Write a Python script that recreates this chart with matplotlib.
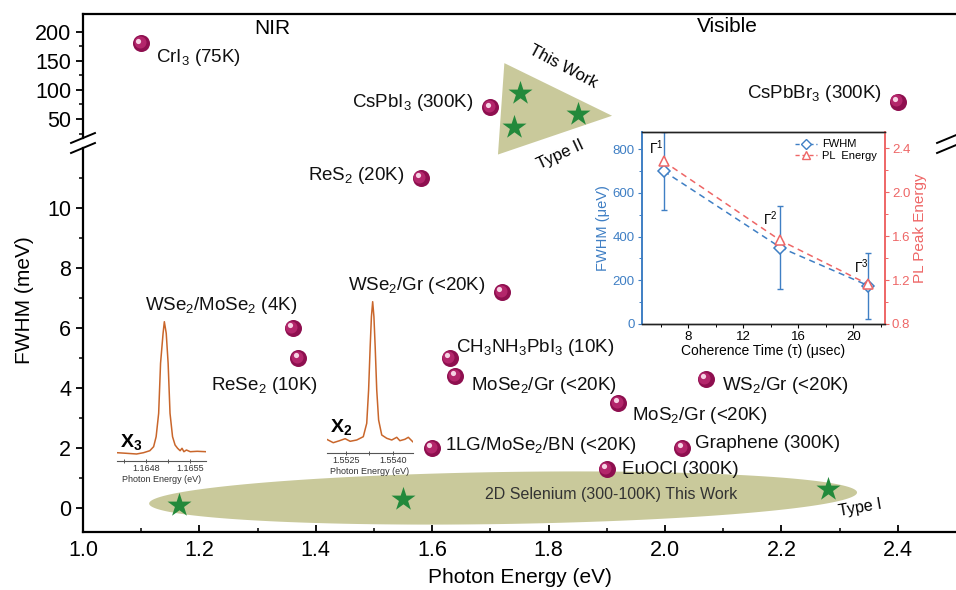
import numpy as np
import matplotlib.pyplot as plt
import matplotlib.transforms as mtransforms
from matplotlib.patches import Polygon
from matplotlib.lines import Line2D
from matplotlib.ticker import FormatStrFormatter

plt.rcParams['font.family'] = ['Liberation Sans', 'DejaVu Sans']
plt.rcParams['mathtext.fontset'] = 'custom'
plt.rcParams['mathtext.rm'] = 'Liberation Sans'
plt.rcParams['mathtext.bf'] = 'Liberation Sans:bold'
plt.rcParams['mathtext.it'] = 'Liberation Sans:italic'
plt.rcParams['mathtext.default'] = 'regular'

# --- dados: painel superior (FWHM grande) ---
top_names = ['CrI$_3$ (75K)', 'CsPbI$_3$ (300K)', 'CsPbBr$_3$ (300K)']
top_energy = [1.10, 1.70, 2.40]
top_fwhm = [180, 70, 80]

# --- dados: painel inferior ---
low_names = ['ReS$_2$ (20K)', 'WSe$_2$/Gr (<20K)', 'CH$_3$NH$_3$PbI$_3$ (10K)',
             'MoSe$_2$/Gr (<20K)', 'WSe$_2$/MoSe$_2$ (4K)', 'ReSe$_2$ (10K)',
             '1LG/MoSe$_2$/BN (<20K)', 'MoS$_2$/Gr (<20K)', 'WS$_2$/Gr (<20K)',
             'Graphene (300K)', 'EuOCl (300K)']
low_energy = [1.58, 1.72, 1.63, 1.64, 1.36, 1.37, 1.60, 1.92, 2.07, 2.03, 1.90]
low_fwhm = [11.0, 7.2, 5.0, 4.4, 6.0, 5.0, 2.0, 3.5, 4.3, 2.0, 1.3]

# --- este trabalho (selenio 2D) ---
type1_energy = [1.165, 1.55, 2.28]
type1_fwhm = [0.1, 0.3, 0.65]
type2_energy = [1.75, 1.74, 1.85]
type2_fwhm = [95, 37, 58]

# --- espectros dos insets ---
x3_energy = [1.16434, 1.16449, 1.16465, 1.16476, 1.16486, 1.16492, 1.16496, 1.16500,
             1.16503, 1.16507, 1.16509, 1.16512, 1.16515, 1.16518, 1.16522, 1.16526,
             1.16530, 1.16534, 1.16537, 1.16540, 1.16544, 1.16550, 1.16561, 1.16575]
x3_intensity = [7.3, 6.7, 6.0, 7.3, 9.3, 13.3, 23.3, 46.7, 96.7, 126.7, 138.3, 126.7,
                96.7, 46.7, 23.3, 15.0, 11.7, 9.3, 11.7, 8.3, 10.0, 8.3, 8.7, 8.3]
x2_energy = [1.55189, 1.55210, 1.55230, 1.55248, 1.55264, 1.55285, 1.55306, 1.55317,
             1.55323, 1.55328, 1.55332, 1.55336, 1.55340, 1.55344, 1.55349, 1.55355,
             1.55365, 1.55381, 1.55397, 1.55413, 1.55423, 1.55439, 1.55450, 1.55464]
x2_intensity = [15.7, 12.3, 14.3, 16.3, 13.7, 15.0, 18.3, 31.7, 65.0, 108.3, 138.3, 153.3,
                138.3, 108.3, 65.0, 35.0, 20.0, 16.7, 15.0, 17.7, 14.3, 15.7, 17.7, 13.3]

# --- inset tempo de coerencia ---
coh_time = [6.2, 14.7, 21.1]
coh_fwhm = [700, 350, 175]
coh_fwhm_err = [180, 190, 150]
coh_pl = [2.28, 1.56, 1.16]
gamma_labels = ['Γ$^1$', 'Γ$^2$', 'Γ$^3$']

# deslocamentos dos rotulos (pixels) e alinhamento
top_offsets = [(15, -14, 'left'), (-17, 5, 'right'), (-16, 8, 'right')]
low_offsets = [(-16, 2, 'right'), (-17, 7, 'right'), (6, 11, 'left'), (16, -9, 'left'),
               (-71, 22, 'center'), (-34, -28, 'center'), (13, 2, 'left'),
               (14, -12, 'left'), (16, -7, 'left'), (13, 5, 'left'), (15, 0, 'left')]

W, H = 956, 590
fig = plt.figure(figsize=(W / 100, H / 100), dpi=100)


def box(l, t, r, b):
    return [l / W, 1 - b / H, (r - l) / W, (b - t) / H]


def ftext(x, y, s, **kw):
    fig.text(x / W, 1 - y / H, s, **kw)


ball_dark = '#8e0f4f'
ball_mid = '#b3266b'
ball_hi = '#f6d3e4'
star_green = '#23893b'
khaki = '#c9c99b'


def balls(ax, xs, ys):
    ax.scatter(xs, ys, s=150, color=ball_dark, linewidths=0, zorder=5)
    t1 = mtransforms.offset_copy(ax.transData, fig=fig, x=-1.5, y=1.5, units='dots')
    ax.scatter(xs, ys, s=75, color=ball_mid, linewidths=0, transform=t1, zorder=6)
    t2 = mtransforms.offset_copy(ax.transData, fig=fig, x=-2.8, y=2.8, units='dots')
    ax.scatter(xs, ys, s=14, color=ball_hi, linewidths=0, transform=t2, zorder=7)


def labels(ax, names, xs, ys, offsets):
    for nome, x, y, (dx, dy, ha) in zip(names, xs, ys, offsets):
        ax.annotate(nome, (x, y), xytext=(dx, dy), textcoords='offset pixels',
                    ha=ha, va='center', fontsize=13.5, color='#111111', zorder=8)


# eixos principais (eixo y quebrado)
ax_lo = fig.add_axes(box(83, 148, 956, 532))
ax_hi = fig.add_axes(box(83, 14, 956, 138))
for ax in (ax_lo, ax_hi):
    ax.set_facecolor('none')
    ax.set_xlim(1.0, 2.5)
    ax.spines['right'].set_visible(False)
    for s in ax.spines.values():
        s.set_linewidth(1.6)
ax_lo.spines['top'].set_visible(False)
ax_hi.spines['bottom'].set_visible(False)

ax_lo.set_ylim(-0.8, 12.0)
ax_hi.set_ylim(17.4, 230.4)

ax_lo.set_xticks(np.arange(1.0, 2.41, 0.2))
ax_lo.set_xticks(np.arange(1.1, 2.5, 0.2), minor=True)
ax_lo.xaxis.set_major_formatter(FormatStrFormatter('%.1f'))
ax_lo.set_yticks([0, 2, 4, 6, 8, 10])
ax_lo.set_yticks([1, 3, 5, 7, 9, 11], minor=True)
ax_hi.set_yticks([50, 100, 150, 200])
ax_hi.set_yticks([25, 75, 125, 175], minor=True)
ax_hi.tick_params(axis='x', which='both', bottom=False, labelbottom=False)

ax_lo.tick_params(axis='x', which='major', direction='in', length=5, width=1.3, labelsize=15.5, pad=6)
ax_lo.tick_params(axis='x', which='minor', direction='in', length=3, width=1.1)
for ax in (ax_lo, ax_hi):
    ax.tick_params(axis='y', which='major', direction='out', length=5, width=1.3, labelsize=15.5)
    ax.tick_params(axis='y', which='minor', direction='out', length=3, width=1.1)

ax_lo.set_xlabel('Photon Energy (eV)', fontsize=15, labelpad=5)
ftext(24, 300, 'FWHM (meV)', fontsize=15, rotation=90, ha='center', va='center')

# marcas de quebra
kw = dict(color='black', lw=1.4, clip_on=False)
for xb in (0.0, 0.992):
    ax_lo.plot([xb - 0.0137, xb + 0.0137], [1 - 0.013, 1 + 0.013], transform=ax_lo.transAxes, **kw)
    ax_hi.plot([xb - 0.0137, xb + 0.0137], [-0.040, 0.040], transform=ax_hi.transAxes, **kw)

# elipse (Type I) no painel inferior
sx = 873 / 1.5
sy = 384 / 12.8
t = np.linspace(0, 2 * np.pi, 300)
a_px, b_px, ang = 354, 26, np.deg2rad(0.9)
u = a_px * np.cos(t)
v = b_px * np.sin(t)
ex = 1.7218 + (u * np.cos(ang) - v * np.sin(ang)) / sx
ey = 0.333 + (u * np.sin(ang) + v * np.cos(ang)) / sy
ax_lo.fill(ex, ey, color=khaki, lw=0, zorder=1)
ax_lo.text(1.907, 0.45, '2D Selenium (300-100K) This Work', fontsize=11.5,
           color='#333333', ha='center', va='center', zorder=3)
ax_lo.scatter(type1_energy, type1_fwhm, marker='*', s=330, color=star_green,
              linewidths=0, zorder=4)
ftext(860, 508, 'Type I', fontsize=11.5, rotation=10, ha='center', va='center')

# triangulo (Type II) no painel superior
tri = Polygon([(1.724, 146), (1.713, -11), (1.909, 55.6)], closed=True,
              color=khaki, lw=0, zorder=1, clip_on=False)
ax_hi.add_patch(tri)
ax_hi.scatter(type2_energy, type2_fwhm, marker='*', s=330, color=star_green,
              linewidths=0, zorder=4)
ftext(563, 67, 'This Work', fontsize=12, rotation=-28, ha='center', va='center')
ftext(560, 155, 'Type II', fontsize=12, rotation=25, ha='center', va='center')

ftext(272, 29, 'NIR', fontsize=15, ha='center', va='center')
ftext(727, 27, 'Visible', fontsize=15, ha='center', va='center')

balls(ax_hi, top_energy, top_fwhm)
labels(ax_hi, top_names, top_energy, top_fwhm, top_offsets)
balls(ax_lo, low_energy, low_fwhm)
labels(ax_lo, low_names, low_energy, low_fwhm, low_offsets)

# insets de espectro
spec_color = '#c9662b'


def spectrum(rect, xs, ys, xlim, ylim, major, minor):
    ax = fig.add_axes(rect)
    ax.set_facecolor('none')
    ax.plot(xs, ys, color=spec_color, lw=1.1)
    ax.set_xlim(*xlim)
    ax.set_ylim(*ylim)
    for s in ('top', 'left', 'right'):
        ax.spines[s].set_visible(False)
    ax.spines['bottom'].set_color('#555555')
    ax.spines['bottom'].set_linewidth(0.8)
    ax.set_yticks([])
    ax.set_xticks(major)
    ax.set_xticks(minor, minor=True)
    ax.xaxis.set_major_formatter(FormatStrFormatter('%.4f'))
    ax.tick_params(axis='x', which='both', direction='inout', length=3, width=0.7,
                   colors='#555555', labelsize=6.5, pad=1, labelcolor='#333333')
    ax.set_xlabel('Photon Energy (eV)', fontsize=6.5, labelpad=1, color='#333333')
    return ax


spectrum(box(117, 318, 206, 461), x3_energy, x3_intensity, (1.16434, 1.16575), (-1, 142),
         [1.1648, 1.1655], [1.16445, 1.16515])
spectrum(box(326.7, 298, 412.7, 452.7), x2_energy, x2_intensity, (1.55189, 1.55464),
         (2.3, 157), [1.5525, 1.5540], [1.55325])
ftext(120, 442, r'$\mathbf{X}_{\mathbf{3}}$', fontsize=14, ha='left', va='center')
ftext(330, 427, r'$\mathbf{X}_{\mathbf{2}}$', fontsize=14, ha='left', va='center')

# inset tempo de coerencia
blue = '#3f7fc4'
red = '#ee6666'
ax_in = fig.add_axes(box(641.7, 131.7, 885, 324))
ax_in.set_facecolor('white')
ax_tw = ax_in.twinx()
ax_in.set_xlim(4.61, 22.3)
ax_in.set_ylim(0, 880)
ax_tw.set_ylim(0.8, 2.55)

ax_in.errorbar(coh_time, coh_fwhm, yerr=coh_fwhm_err, fmt='none', ecolor=blue,
               elinewidth=1.0, capsize=2, capthick=1.0)
ax_in.plot(coh_time, coh_fwhm, ls=(0, (4, 3)), color=blue, lw=1.1, marker='D',
           ms=6, mfc='white', mec=blue, mew=1.1, label='FWHM')
ax_tw.plot(coh_time, coh_pl, ls=(0, (4, 3)), color=red, lw=1.1, marker='^',
           ms=7, mfc='white', mec=red, mew=1.1, label='PL  Energy')

ax_in.set_xticks([8, 12, 16, 20])
ax_in.set_xticks([6, 10, 14, 18, 22], minor=True)
ax_in.set_yticks([0, 200, 400, 600, 800])
ax_in.set_yticks([100, 300, 500, 700], minor=True)
ax_tw.set_yticks([0.8, 1.2, 1.6, 2.0, 2.4])
ax_tw.set_yticks([1.0, 1.4, 1.8, 2.2], minor=True)
ax_tw.yaxis.set_major_formatter(FormatStrFormatter('%.1f'))

ax_in.tick_params(axis='x', which='major', length=3, width=0.8, labelsize=9.5, pad=2)
ax_in.tick_params(axis='x', which='minor', length=2, width=0.7)
ax_in.tick_params(axis='y', which='major', length=3, width=0.8, labelsize=9.5, pad=2,
                  colors=blue)
ax_in.tick_params(axis='y', which='minor', length=2, width=0.7, colors=blue)
ax_tw.tick_params(axis='y', which='major', length=3, width=0.8, labelsize=9.5, pad=2,
                  colors=red)
ax_tw.tick_params(axis='y', which='minor', length=2, width=0.7, colors=red)

for a in (ax_in, ax_tw):
    a.spines['top'].set_linewidth(1.0)
    a.spines['bottom'].set_linewidth(1.0)
    a.spines['top'].set_color('#222222')
    a.spines['bottom'].set_color('#222222')
ax_tw.spines['left'].set_color(blue)
ax_tw.spines['right'].set_color(red)
ax_in.spines['left'].set_color(blue)
ax_in.spines['right'].set_color(red)
for a in (ax_in, ax_tw):
    a.spines['left'].set_linewidth(1.2)
    a.spines['right'].set_linewidth(1.2)

ax_in.set_xlabel('Coherence Time (τ) (μsec)', fontsize=10, labelpad=1)
ax_in.set_ylabel('FWHM (μeV)', fontsize=10.5, color=blue, labelpad=2)
ax_tw.set_ylabel('PL Peak Energy', fontsize=11, color=red, labelpad=2)

gamma_y = [805, 481, 260]
gamma_x = [5.65, 13.94, 20.6]
for g, gx, gy in zip(gamma_labels, gamma_x, gamma_y):
    ax_in.text(gx, gy, g, fontsize=10, ha='center', va='center', zorder=6)

handles = [Line2D([], [], ls=(0, (3, 2)), color=blue, marker='D', ms=5, mfc='white',
                  mec=blue, lw=1.0),
           Line2D([], [], ls=(0, (3, 2)), color=red, marker='^', ms=6, mfc='white',
                  mec=red, lw=1.0)]
ax_in.legend(handles, ['FWHM', 'PL  Energy'], loc='upper right', fontsize=8,
             frameon=False, handlelength=2.0, borderaxespad=0.3, labelspacing=0.15,
             handletextpad=0.5)

fig.savefig('out.png', dpi=100)
